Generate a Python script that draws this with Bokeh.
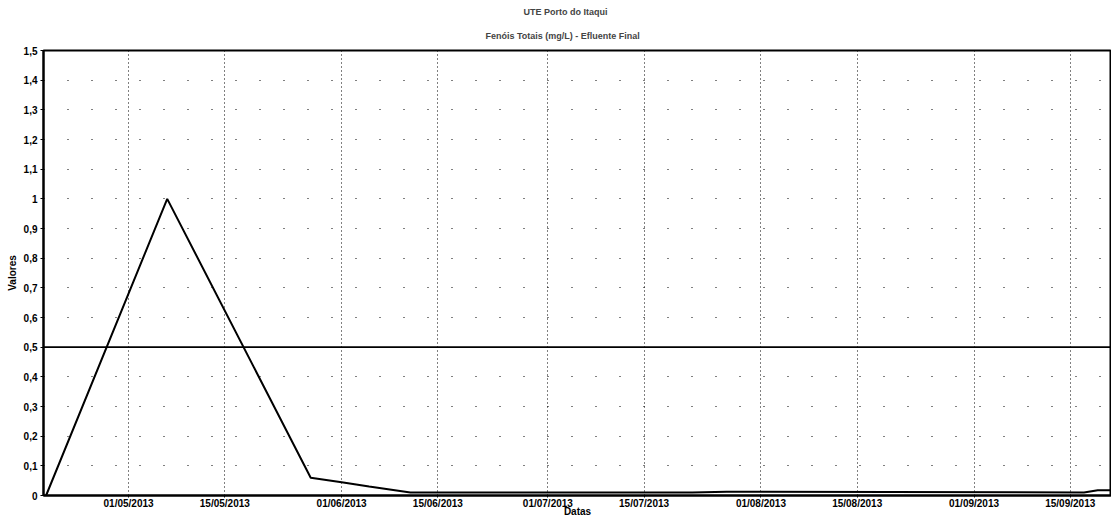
from datetime import datetime
import pandas as pd
from bokeh.plotting import figure
from bokeh.models import Title, Range1d, FixedTicker, CustomJSTickFormatter, Span, ColumnDataSource
from bokeh.embed import file_html
from bokeh.resources import INLINE

# ---- data ----
titulo = "UTE Porto do Itaqui"
subtitulo = "Fenóis Totais (mg/L) - Efluente Final"
rotulo_x = "Datas"
rotulo_y = "Valores"

datas = ["2013-04-19 00:00", "2013-05-06 15:00", "2013-05-27 12:00", "2013-06-01 00:00",
         "2013-06-05 00:00", "2013-06-11 00:00", "2013-07-22 00:00", "2013-07-27 00:00",
         "2013-09-17 00:00", "2013-09-19 00:00", "2013-09-21 00:00"]
fenois = [0.0, 1.0, 0.06, 0.045, 0.03, 0.01, 0.01, 0.013, 0.01, 0.018, 0.018]
limite_vmp = 0.5

x_ticks_datas = ["2013-05-01", "2013-05-15", "2013-06-01", "2013-06-15", "2013-07-01",
                 "2013-07-15", "2013-08-01", "2013-08-15", "2013-09-01", "2013-09-15"]
y_ticks = [0, 0.1, 0.2, 0.3, 0.4, 0.5, 0.6, 0.7, 0.8, 0.9, 1.0, 1.1, 1.2, 1.3, 1.4, 1.5]

FONT = "Liberation Sans"

src = ColumnDataSource(dict(x=pd.to_datetime(datas), y=fenois))

p = figure(width=1111, height=519, x_axis_type="datetime",
           x_range=Range1d(datetime(2013, 4, 18, 15), datetime(2013, 9, 21)),
           y_range=Range1d(0, 1.5),
           output_backend="svg", toolbar_location=None,
           min_border_left=43, min_border_right=0, min_border_top=50, min_border_bottom=10)

p.title.text = titulo
p.title.align = "left"
p.title.offset = 480
p.title.text_font = FONT
p.title.text_font_size = "9px"
p.title.text_font_style = "bold"
p.title.standoff = 6
p.add_layout(Title(text=subtitulo, align="left", offset=442, text_font=FONT,
                   text_font_size="9px", text_font_style="bold", standoff=19), "above")

p.background_fill_color = "white"
p.border_fill_color = "white"
p.outline_line_color = "black"
p.outline_line_width = 2

x_tick_ms = [pd.Timestamp(d).value / 1e6 for d in x_ticks_datas]
p.xaxis.ticker = FixedTicker(ticks=x_tick_ms)
p.xaxis.formatter = CustomJSTickFormatter(code="""
const d = new Date(tick);
const dd = String(d.getUTCDate()).padStart(2, '0');
const mm = String(d.getUTCMonth() + 1).padStart(2, '0');
return dd + '/' + mm + '/' + d.getUTCFullYear();
""")
p.yaxis.ticker = FixedTicker(ticks=y_ticks)
p.yaxis.formatter = CustomJSTickFormatter(code="""
return tick.toFixed(1).replace('.0', '').replace('.', ',');
""")

for ax in (p.xaxis, p.yaxis):
    ax.axis_line_color = "black"
    ax.axis_line_width = 2
    ax.major_tick_line_color = "black"
    ax.major_tick_out = 3
    ax.major_tick_in = 0
    ax.minor_tick_line_color = None
    ax.major_label_text_font = FONT
    ax.major_label_text_font_size = "10px"
    ax.major_label_text_font_style = "bold"
    ax.major_label_text_color = "black"
    ax.major_label_text_line_height = 0.8
    ax.axis_label_text_font = FONT
    ax.axis_label_text_font_size = "10px"
    ax.axis_label_text_font_style = "bold"
    ax.axis_label_text_color = "black"
    ax.axis_label_text_line_height = 0.8

p.xaxis.major_tick_out = 2
p.xaxis.major_label_standoff = 0
p.xaxis.axis_label_standoff = -6
p.yaxis.major_label_standoff = 3
p.yaxis.axis_label_standoff = 3

p.xaxis.axis_label = rotulo_x
p.yaxis.axis_label = rotulo_y

p.xgrid.grid_line_color = "black"
p.xgrid.grid_line_dash = "1 3"
p.xgrid.grid_line_width = 1
p.ygrid.grid_line_color = "black"
p.ygrid.grid_line_dash = "1 23"
p.ygrid.grid_line_width = 1

p.add_layout(Span(location=limite_vmp, dimension="width", line_color="black", line_width=1.6))

p.line("x", "y", source=src, line_color="black", line_width=2)

open("out.html", "w").write(file_html(p, INLINE))
